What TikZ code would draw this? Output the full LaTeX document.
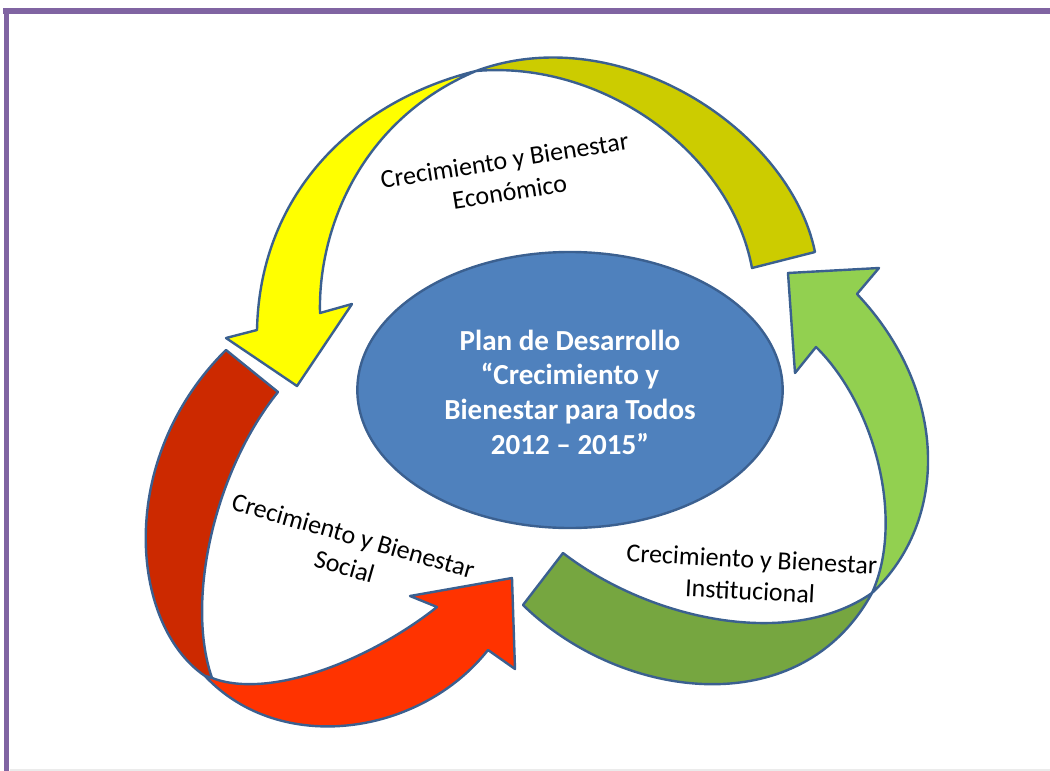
\documentclass[tikz,border=0pt]{standalone}
\usepackage{fontspec}
\setmainfont{Carlito}
\usetikzlibrary{shapes.geometric}

\definecolor{framePurple}{HTML}{8064A2}
\definecolor{outlineBlue}{HTML}{3B6090}
\definecolor{planBlue}{HTML}{4F81BD}
\definecolor{econYellow}{HTML}{FFFF00}
\definecolor{econOlive}{HTML}{CCCC00}
\definecolor{socDark}{HTML}{CC2900}
\definecolor{socRed}{HTML}{FF3300}
\definecolor{instLight}{HTML}{92D050}
\definecolor{instDark}{HTML}{76A640}

\tikzset{every picture/.style={line width=0.75pt}}

\begin{document}
\begin{tikzpicture}[x=0.75pt,y=0.75pt,yscale=-1,xscale=1,
  ribbon/.style={draw=outlineBlue,line width=1.8pt,line join=round},
  arcText/.style={inner sep=0.75pt,align=center,font=\fontsize{19.5}{24}\selectfont}]
  \useasboundingbox (0,0) rectangle (1050,771);

  %Frame lines
  \draw [framePurple,line width=4.5pt] (3,11) -- (1050,11) ;
  \draw [framePurple,line width=3.75pt] (6,8) -- (6,771) ;
  \draw [black!8,line width=1.2pt] (10,770) -- (1050,770) ;

  %Shape: Curved Arrow, olive part [id:econ1]
  \draw [ribbon,fill=econOlive] (476,71) .. controls (620,18) and (790,130) .. (815,252) -- (752,268) .. controls (730,150) and (600,60) .. (476,71) -- cycle ;
  %Shape: Curved Arrow, yellow part [id:econ2]
  \draw [ribbon,fill=econYellow] (476,71) .. controls (358,100) and (260,190) .. (257,330) -- (226,338) -- (297,386) -- (352,304) -- (320,313) .. controls (318,230) and (360,120) .. (476,71) -- cycle ;

  %Shape: Curved Arrow, dark red part [id:soc1]
  \draw [ribbon,fill=socDark] (226,350) -- (278,392) .. controls (215,470) and (185,600) .. (212,678) -- (205,676) .. controls (130,625) and (115,460) .. (226,350) -- cycle ;
  %Shape: Curved Arrow, red part [id:soc2]
  \draw [ribbon,fill=socRed] (205,676) .. controls (280,756) and (420,736) .. (488,650) -- (515,669) -- (512,578) -- (410,596) -- (437,607) .. controls (370,660) and (270,700) .. (212,678) -- cycle ;

  %Shape: Curved Arrow, dark green part [id:inst1]
  \draw [ribbon,fill=instDark] (523,605) -- (563,553) .. controls (650,620) and (790,650) .. (872,593) .. controls (800,725) and (620,700) .. (523,605) -- cycle ;
  %Shape: Curved Arrow, light green part [id:inst2]
  \draw [ribbon,fill=instLight] (872,593) .. controls (950,520) and (948,390) .. (857,294) -- (879,268) -- (788,273) -- (795,373) -- (816,347) .. controls (875,405) and (905,520) .. (872,593) -- cycle ;

  %Shape: Ellipse [id:plan]
  \node (plan) [ellipse,draw=outlineBlue,line width=1.8pt,fill=planBlue,minimum width=319pt,minimum height=207pt,inner sep=0pt] at (570,390) {};

  % Text Node
  \node (planText) [inner sep=0.75pt,align=center,text=white,font=\fontsize{21.8}{26}\selectfont\bfseries] at (570,392) {Plan de Desarrollo\\“Crecimiento y\\Bienestar para Todos\\2012 – 2015”};
  % Text Node
  \node (econText) [arcText,rotate=9] at (507,176) {Crecimiento y Bienestar\\Económico};
  % Text Node
  \node (socText) [arcText,rotate=-16] at (349,551) {Crecimiento y Bienestar\\Social};
  % Text Node
  \node (instText) [arcText,rotate=-3] at (751,575) {Crecimiento y Bienestar\\Institucional};

\end{tikzpicture}
\end{document}
